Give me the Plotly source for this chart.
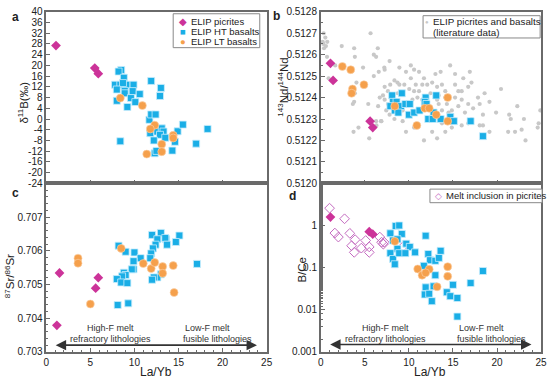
import plotly.graph_objects as go
import math

# ---------------- data ----------------
# Panel a: La/Yb vs d11B
a_pic_x = [1.1, 5.5, 5.9]
a_pic_y = [27.4, 19.0, 16.9]
a_ht_x = [8.5, 8.2, 8.8, 7.8, 8.4, 9.1, 9.9, 8.7, 8.0, 8.9, 9.8, 8.9, 10.6, 9.6, 8.0, 10.1, 9.2, 8.4,
          11.9, 13.0, 12.9, 11.7, 11.9, 12.4, 11.8, 12.6, 13.1, 13.3, 12.9, 13.5, 12.2, 12.3, 12.5,
          14.3, 14.6, 14.9, 15.5, 17.0, 18.3]
a_ht_y = [18.3, 17.7, 15.4, 12.8, 12.8, 12.8, 12.8, 13.4, 11.0, 10.5, 10.4, 9.6, 9.3, 7.8, 6.8, 6.3, 4.5, -8.3,
          14.2, 11.6, 8.6, -0.3, 1.7, 1.7, -5.3, -4.7, -3.5, -4.7, -5.9, -7.0, -8.0, -12.8, -11.9,
          -11.8, -8.5, -4.6, -2.1, -9.2, -3.7]
a_lt_x = [8.4, 10.9, 12.3, 11.8, 14.4, 14.4, 13.1, 13.1, 11.4]
a_lt_y = [7.8, 5.0, -2.3, -3.7, -6.1, -7.1, -9.4, -12.2, -13.1]

# Panel b: La/Yb vs 143Nd/144Nd
b_lit_x = [0.33, 0.52, 0.22, 0.74, 0.30, 0.59, 0.37, 0.71, 2.38, 3.79, 3.87, 1.64, 0.89, 5.65, 6.47, 6.02,
           6.28, 4.80, 4.05, 6.02, 6.58, 3.72, 3.87, 3.79, 3.64, 3.72, 4.28, 5.50, 5.39,
           7.25, 7.81, 8.92, 10.22, 10.59, 9.67, 11.15, 11.71, 13.01, 13.60, 14.68, 15.24, 16.17, 16.91,
           10.22, 10.78, 11.52, 12.08, 12.64, 13.20, 13.75, 14.13, 15.24, 15.61, 15.99, 16.73, 17.10,
           8.36, 8.92, 9.48, 10.04, 10.59, 11.15, 7.62, 7.06, 6.69, 7.25, 7.62, 6.51, 7.25,
           12.45, 13.38, 14.13, 15.24, 15.99, 16.73, 17.29, 15.61, 14.87, 16.36, 17.10, 15.24, 13.75,
           12.64, 13.20, 14.13, 11.71, 10.59, 9.29, 8.36, 7.81, 6.88, 6.32, 9.67, 14.87, 15.99, 16.73,
           8.74, 10.97, 11.52, 13.38, 14.31, 13.75, 14.50, 13.20, 10.40, 9.29, 7.43,
           17.84, 18.59, 19.14, 18.03, 18.40, 19.89, 20.45, 22.30, 21.38, 21.56, 23.05, 24.91,
           18.03, 18.40, 19.14, 21.26, 22.04, 22.79, 23.23, 24.72, 24.61,
           7.21, 8.70, 7.88, 6.28, 6.84]
b_lit_y = [0.51270, 0.51268, 0.51266, 0.51266, 0.51265, 0.51264, 0.51263, 0.51259, 0.51264, 0.51263,
           0.51259, 0.51255, 0.51249, 0.51270, 0.51263, 0.51260, 0.51259, 0.51254, 0.51247, 0.51250,
           0.51252, 0.51244, 0.51242, 0.51238, 0.51237, 0.51224, 0.51226, 0.51221, 0.51237,
           0.51253, 0.51257, 0.51254, 0.51255, 0.51253, 0.51252, 0.51252, 0.51249, 0.51251, 0.51252,
           0.51255, 0.51251, 0.51249, 0.51252,
           0.51249, 0.51246, 0.51246, 0.51246, 0.51247, 0.51245, 0.51246, 0.51243, 0.51246, 0.51243,
           0.51243, 0.51245, 0.51247,
           0.51248, 0.51246, 0.51246, 0.51244, 0.51243, 0.51243, 0.51243, 0.51241, 0.51240, 0.51239,
           0.51237, 0.51236, 0.51245,
           0.51242, 0.51241, 0.51240, 0.51240, 0.51239, 0.51237, 0.51235, 0.51236, 0.51234, 0.51233,
           0.51230, 0.51230, 0.51228,
           0.51224, 0.51221, 0.51224, 0.51220, 0.51226, 0.51229, 0.51230, 0.51232, 0.51229, 0.51227,
           0.51224, 0.51226, 0.51227, 0.51228,
           0.51242, 0.51240, 0.51239, 0.51237, 0.51237, 0.51234, 0.51233, 0.51239, 0.51239, 0.51234,
           0.51234,
           0.51240, 0.51242, 0.51238, 0.51237, 0.51232, 0.51233, 0.51244, 0.51236, 0.51232, 0.51230,
           0.51230, 0.51234,
           0.51227, 0.51227, 0.51224, 0.51224, 0.51224, 0.51225, 0.51220, 0.51228, 0.51226,
           0.51254, 0.51247, 0.51246, 0.51229, 0.51229]
b_pic_x = [1.1, 1.4, 5.6, 5.9]
b_pic_y = [0.51256, 0.51248, 0.51229, 0.51226]
b_ht_x = [8.1, 9.2, 8.2, 8.6, 9.1, 9.6, 10.1, 7.9, 8.4, 8.8, 10.0, 10.6, 11.2, 11.9, 11.8, 12.0,
          13.1, 12.8, 12.2, 12.7, 13.6, 14.7, 15.1, 17.0, 18.4]
b_ht_y = [0.51241, 0.51242, 0.51238, 0.51238, 0.51236, 0.51237, 0.51237, 0.51236, 0.51234, 0.51233,
          0.51232, 0.51233, 0.51234, 0.51240, 0.51238, 0.51237, 0.51241, 0.51233, 0.51230, 0.51230,
          0.51230, 0.51231, 0.51229, 0.51229, 0.51222]
b_lt_x = [2.45, 3.4, 3.6, 3.5, 4.9, 8.4, 11.8, 12.3, 13.1, 10.9, 14.4, 14.4]
b_lt_y = [0.512545, 0.51253, 0.51244, 0.51242, 0.51246, 0.51236, 0.51235, 0.51235, 0.51232,
          0.51227, 0.51240, 0.51229]

# Panel c: La/Yb vs 87Sr/86Sr
c_pic_x = [1.2, 1.5, 5.6, 5.9]
c_pic_y = [0.70379, 0.70534, 0.70489, 0.70520]
c_ht_x = [8.2, 9.0, 10.0, 10.7, 9.9, 9.9, 9.7, 8.8, 9.0, 8.6, 8.0, 8.5, 9.2, 8.1, 9.3,
          12.0, 13.0, 13.6, 12.6, 13.5, 15.1, 14.7, 12.4, 12.1, 11.9, 11.8, 13.7, 13.0, 12.6, 12.2,
          12.0, 17.1]
c_ht_y = [0.70615, 0.70597, 0.70595, 0.70578, 0.70569, 0.70545, 0.70545, 0.70535, 0.70528, 0.70524,
          0.70516, 0.70506, 0.70504, 0.70439, 0.70444,
          0.70647, 0.70653, 0.70634, 0.70634, 0.70638, 0.70645, 0.70626, 0.70618, 0.70607, 0.70592,
          0.70578, 0.70618, 0.70530, 0.70521, 0.70521, 0.70514, 0.70561]
c_lt_x = [3.6, 3.6, 5.0, 8.5, 11.0, 11.9, 12.3, 13.2, 13.2, 14.4, 14.5]
c_lt_y = [0.70578, 0.70563, 0.70442, 0.70607, 0.70562, 0.70547, 0.70565, 0.70553, 0.70533, 0.70556,
          0.70476]

# Panel d: La/Yb vs B/Ce
d_pic_x = [1.1, 5.5, 5.9]
d_pic_y = [1.58, 0.71, 0.62]
d_mi_x = [1.0, 2.7, 1.6, 2.0, 3.3, 3.9, 3.5, 3.8, 4.6, 5.1, 5.5, 5.5, 6.7, 6.9, 7.1, 7.2, 9.3]
d_mi_y = [2.57, 1.44, 0.66, 0.53, 0.65, 0.46, 0.33, 0.23, 0.29, 0.44, 0.31, 0.23, 0.53, 0.40,
          0.36, 0.40, 0.31]
d_ht_x = [7.9, 8.5, 8.9, 9.2, 8.2, 8.7, 9.7, 10.1, 8.7, 7.9, 8.2, 8.4, 8.9, 9.6, 10.7, 11.9, 12.2,
          12.4, 13.0, 13.4, 13.6, 11.7, 13.0, 11.9, 11.8, 12.3, 12.6, 12.8, 14.3, 14.7, 15.0, 15.5,
          15.5, 17.0, 18.4]
d_ht_y = [0.65, 0.97, 1.0, 0.63, 0.44, 0.47, 0.37, 0.31, 0.28, 0.22, 0.16, 0.12, 0.22, 0.22, 0.23,
          0.57, 0.21, 0.15, 0.145, 0.17, 0.25, 0.11, 0.066, 0.034, 0.023, 0.024, 0.016, 0.036,
          0.026, 0.021, 0.039, 0.019, 0.0069, 0.043, 0.083]
d_lt_x = [8.4, 11.0, 11.5, 12.3, 11.9, 13.2, 14.4, 14.4]
d_lt_y = [0.42, 0.093, 0.066, 0.091, 0.075, 0.035, 0.105, 0.062]

# ---------------- styles ----------------
W, H = 554, 386
FONT = "Arial, Liberation Sans, sans-serif"
C_PIC = "#cc3399"
C_HT = "#1aaee6"
C_LT = "#f5a04c"
C_LIT = "#c8c8c8"
C_MI = "#c46ac0"
FRAME = "#6a6a6a"

def px(x):
    return x / W

def py(y):
    return 1 - y / H

fig = go.Figure()

def add(xs, ys, ax, kind):
    xa, ya = ax
    if kind == "lit":
        m = dict(symbol="circle", size=4.2, color=C_LIT)
    elif kind == "pic":
        m = dict(symbol="diamond", size=7.5, color=C_PIC)
    elif kind == "ht":
        m = dict(symbol="square", size=7, color=C_HT, line=dict(color="#c9eefc", width=0.8))
    elif kind == "lt":
        m = dict(symbol="circle", size=8, color=C_LT, line=dict(color="#fbd3ad", width=0.6))
    else:
        m = dict(symbol="diamond-open", size=7.5, color=C_MI, line=dict(color=C_MI, width=1))
    fig.add_trace(go.Scatter(x=xs, y=ys, mode="markers", marker=m, xaxis=xa, yaxis=ya,
                             showlegend=False, hoverinfo="skip"))

add(a_pic_x, a_pic_y, ("x", "y"), "pic")
add(a_ht_x, a_ht_y, ("x", "y"), "ht")
add(a_lt_x, a_lt_y, ("x", "y"), "lt")

add(b_lit_x, b_lit_y, ("x2", "y2"), "lit")
add(b_pic_x, b_pic_y, ("x2", "y2"), "pic")
add(b_ht_x, b_ht_y, ("x2", "y2"), "ht")
add(b_lt_x, b_lt_y, ("x2", "y2"), "lt")

add(c_pic_x, c_pic_y, ("x3", "y3"), "pic")
add(c_ht_x, c_ht_y, ("x3", "y3"), "ht")
add(c_lt_x, c_lt_y, ("x3", "y3"), "lt")

add(d_mi_x, d_mi_y, ("x4", "y4"), "mi")
add(d_pic_x, d_pic_y, ("x4", "y4"), "pic")
add(d_ht_x, d_ht_y, ("x4", "y4"), "ht")
add(d_lt_x, d_lt_y, ("x4", "y4"), "lt")

base = dict(showline=True, linecolor=FRAME, linewidth=1.5, mirror=True, ticks="inside",
            ticklen=4, tickcolor=FRAME, tickwidth=1, showgrid=False, zeroline=False,
            tickfont=dict(family=FONT, size=10, color="#222"))

xdomL = [px(44), px(268)]
xdomR = [px(323), px(547)]
ydomT = [py(183), py(6)]
ydomB = [py(357), py(183)]

xticks = [0, 5, 10, 15, 20, 25]

def xax(dom, anchor, labels):
    d = dict(base, domain=dom, anchor=anchor, range=[0, 25], tickvals=xticks,
             showticklabels=labels, minor=dict(dtick=1, ticks="inside", ticklen=2,
                                                tickcolor=FRAME, showgrid=False))
    return d

a_yt = list(range(-24, 41, 4))
b_yt = [0.5120 + 0.0001 * i for i in range(9)]
c_yt = [0.703, 0.704, 0.705, 0.706, 0.707]
d_yt = [0.001, 0.01, 0.1, 1]

fig.update_layout(
    width=W, height=H, margin=dict(l=0, r=0, t=0, b=0),
    paper_bgcolor="white", plot_bgcolor="white",
    font=dict(family=FONT, color="#222"),
    xaxis=xax(xdomL, "y", False),
    yaxis=dict(base, domain=ydomT, anchor="x", range=[-24, 40], tickvals=a_yt,
               ticktext=[str(v) for v in a_yt]),
    xaxis2=xax(xdomR, "y2", False),
    yaxis2=dict(base, domain=ydomT, anchor="x2", range=[0.5120, 0.5128], tickvals=b_yt,
                ticktext=["%.4f" % v for v in b_yt],
                minor=dict(dtick=0.00005, ticks="inside", ticklen=2, tickcolor=FRAME)),
    xaxis3=xax(xdomL, "y3", True),
    yaxis3=dict(base, domain=ydomB, anchor="x3", range=[0.703, 0.708], tickvals=c_yt,
                ticktext=["%.3f" % v for v in c_yt],
                minor=dict(dtick=0.0002, ticks="inside", ticklen=2, tickcolor=FRAME)),
    xaxis4=xax(xdomR, "y4", True),
    yaxis4=dict(base, domain=ydomB, anchor="x4", type="log", range=[-3, 1], tickvals=d_yt,
                ticktext=["0.001", "0.01", "0.1", "1"],
                minor=dict(ticks="inside", ticklen=2, tickcolor=FRAME)),
)

ann = []
shapes = []

def text(x, y, s, size=10, **kw):
    d = dict(x=px(x), y=py(y), xref="paper", yref="paper", text=s, showarrow=False,
             borderpad=0, font=dict(family=FONT, size=size, color=kw.pop("color", "#222")))
    d.update(kw)
    ann.append(d)

# panel letters
for lx, ly, s in [(13, 11, "a"), (278, 10, "b"), (13, 193, "c"), (294, 196, "d")]:
    text(lx, ly, "<b>%s</b>" % s, size=12, xanchor="center", yanchor="middle")

# axis titles
text(20, 100, "δ<sup>11</sup>B(‰)", size=11.5, textangle=-90, xanchor="center", yanchor="middle")
text(285, 84, "<sup>143</sup>Nd/<sup>144</sup>Nd", size=11.5, textangle=-90, xanchor="center",
     yanchor="middle")
text(7, 279, "<sup>87</sup>Sr/<sup>86</sup>Sr", size=11.5, textangle=-90, xanchor="center",
     yanchor="middle")
text(303, 272, "B/Ce", size=11.5, textangle=-90, xanchor="center", yanchor="middle")
text(156, 386, "La/Yb", size=12, xanchor="center", yanchor="bottom")
text(434, 386, "La/Yb", size=12, xanchor="center", yanchor="bottom")

# legend a
shapes.append(dict(type="rect", xref="paper", yref="paper", x0=px(173), x1=px(261), y0=py(43),
                   y1=py(8), line=dict(color="#888", width=1), fillcolor="white"))
for yy, sym, col, lab in [(15.5, "◆", C_PIC, "ELIP picrites"), (26, "■", C_HT, "ELIP HT basalts"),
                          (36.5, "●", C_LT, "ELIP LT basalts")]:
    text(183, yy, sym, size=9.5, color=col, xanchor="center", yanchor="middle")
    text(190, yy, lab, size=9.5, xanchor="left", yanchor="middle")

# legend b
shapes.append(dict(type="rect", xref="paper", yref="paper", x0=px(427), x1=px(546), y0=py(33),
                   y1=py(10), line=dict(color="#888", width=1), fillcolor="white"))
text(431.5, 16, "●", size=6, color=C_LIT, xanchor="center", yanchor="middle")
text(436, 16, "ELIP picrites and basalts", size=9.8, xanchor="left", yanchor="middle")
text(436, 27, "(literature data)", size=9.8, xanchor="left", yanchor="middle")

# legend d
shapes.append(dict(type="rect", xref="paper", yref="paper", x0=px(434), x1=px(548), y0=py(203),
                   y1=py(189), line=dict(color="#888", width=1), fillcolor="white"))
text(443, 196, "◇", size=9, color=C_MI, xanchor="center", yanchor="middle")
text(449, 196, "Melt inclusion in picrites", size=9.5, xanchor="left", yanchor="middle")

# arrows and process labels
arrow_c = 0.7032
arrow_d = math.log10(0.0015)
for xr, yr, yv, l1, l2 in [("x3", "y3", arrow_c, 0.703697, 0.703394),
                           ("x4", "y4", arrow_d, -2.444, -2.685)]:
    ann.append(dict(x=23.9, y=yv, ax=0.9, ay=yv, xref=xr, yref=yr, axref=xr, ayref=yr,
                    text="", showarrow=True, arrowhead=2, arrowside="end+start", arrowsize=1.3,
                    arrowwidth=1.6, arrowcolor="#333"))
    for xx, yy, s, anc in [(7.3, l1, "High-F melt", "center"),
                           (7.3, l2, "refractory lithologies", "center"),
                           (15.6, l1, "Low-F melt", "left"),
                           (15.4, l2, "fusible lithologies", "left")]:
        ann.append(dict(x=xx, y=yy, xref=xr, yref=yr, text=s, showarrow=False, borderpad=0,
                        xanchor=anc, yanchor="middle",
                        font=dict(family=FONT, size=9, color="#333")))

fig.update_layout(annotations=ann, shapes=shapes)
fig.write_html("out.html", config={"displayModeBar": False},
               post_script="document.body.style.margin='0';")
